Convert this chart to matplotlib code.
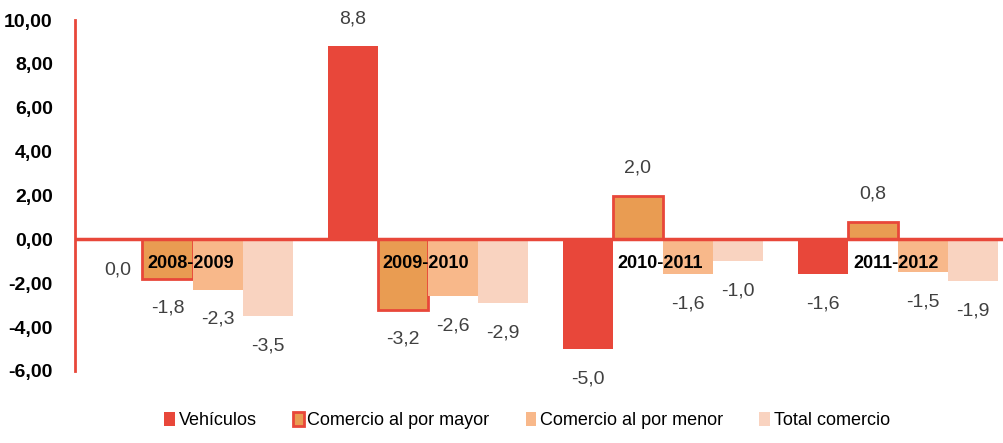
import matplotlib.pyplot as plt
from matplotlib import font_manager
import numpy as np

# pick a narrow font if there is one
names = {f.name for f in font_manager.fontManager.ttflist}
if "Liberation Sans Narrow" in names:
    plt.rcParams['font.family'] = ['Liberation Sans Narrow', 'DejaVu Sans']
else:
    plt.rcParams['font.family'] = ['Liberation Sans', 'DejaVu Sans']

periods = ["2008-2009", "2009-2010", "2010-2011", "2011-2012"]
series = ["Vehículos", "Comercio al por mayor", "Comercio al por menor", "Total comercio"]
vehiculos = [-0.04, 8.8, -5.0, -1.6]
por_mayor = [-1.8, -3.2, 2.0, 0.8]
por_menor = [-2.3, -2.6, -1.6, -1.5]
total = [-3.5, -2.9, -1.0, -1.9]

red = "#E8473A"
colors = [red, "#E99C52", "#F8B88A", "#F9D3C0"]

fig = plt.figure(figsize=(10.04, 4.43), dpi=100)
ax = fig.add_axes([75 / 1004, 1 - 371 / 443, 1 - 75 / 1004, (371 - 20) / 443])

x = np.arange(len(periods))
w = 0.213
data = [vehiculos, por_mayor, por_menor, total]
for k, vals in enumerate(data):
    pos = x + (k - 1.5) * w
    if k == 1:
        ax.bar(pos, vals, w, color=colors[k], edgecolor=red, linewidth=2, label=series[k], zorder=2)
    else:
        ax.bar(pos, vals, w, color=colors[k], label=series[k], zorder=2)
    for xi, v in zip(pos, vals):
        txt = f"{v:.1f}"
        if txt == "-0.0":
            txt = "0.0"
        txt = txt.replace(".", ",")
        off = 1.25 if v > 0 else -1.35
        ax.text(xi, v + off, txt, ha="center", va="center", fontsize=14, color="#404040", zorder=5)

for xi, p in zip(x, periods):
    ax.text(xi - 0.01, -1.1, p, ha="center", va="center", fontsize=13, fontweight="bold",
            color="black", zorder=6)

ax.axhline(0, color=red, lw=2.5, zorder=4)
ax.set_xlim(-0.5, 3.45)
ax.set_ylim(-6, 10)
ax.set_yticks(np.arange(-6, 11, 2))
ax.set_yticklabels([f"{t:.2f}".replace(".", ",") for t in np.arange(-6, 11, 2)],
                   fontsize=14, fontweight="bold")
ax.set_xticks([])
ax.tick_params(axis="y", length=0, pad=16)
for s in ["top", "right", "bottom"]:
    ax.spines[s].set_visible(False)
ax.spines["left"].set_color(red)
ax.spines["left"].set_linewidth(2)

fig.legend(loc="lower center", bbox_to_anchor=(0.525, -0.005), ncol=4, frameon=False,
           fontsize=13, handlelength=0.6, handleheight=0.8, handletextpad=0.2, columnspacing=2.0)

fig.savefig("out.png", dpi=100)
